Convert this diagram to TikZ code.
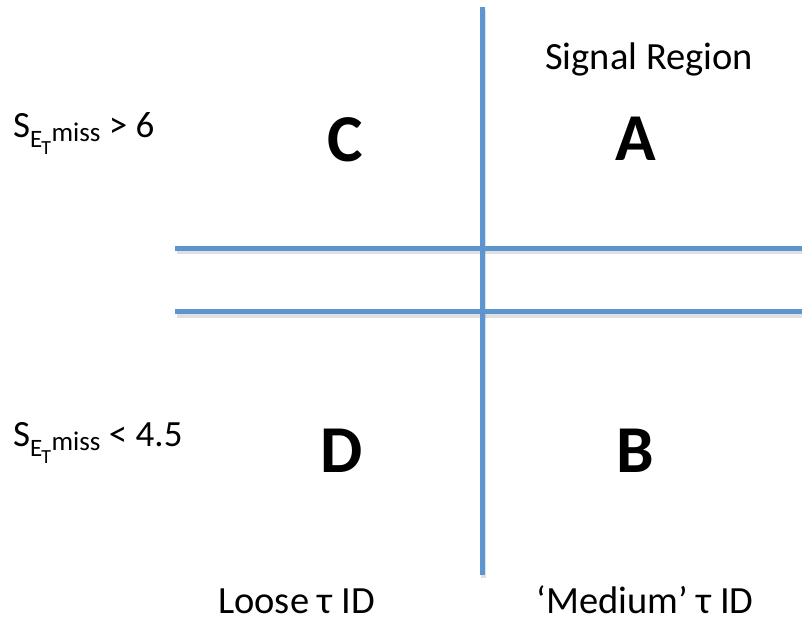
\documentclass[tikz,border=0pt]{standalone}
\usepackage{fontspec}
\setmainfont{Carlito}
\definecolor{linecol}{HTML}{5D95D0}
\tikzset{
  axisline/.style={line width=5pt, linecol},
  shadowline/.style={line width=5pt, black, opacity=0.12},
  txt/.style={inner sep=0pt, font=\fontsize{38.5}{42}\selectfont, anchor=base west},
  lbl/.style={inner sep=0pt, font=\fontsize{37}{40}\selectfont, anchor=base west},
  big/.style={inner sep=0pt, font=\fontsize{67}{70}\selectfont\bfseries, anchor=base},
}
\newcommand{\smiss}{S\raisebox{-10.5pt}{\fontsize{25}{27}\selectfont E}\kern-1pt\raisebox{-17pt}{\fontsize{20}{22}\selectfont T}\kern0.5pt\raisebox{-4pt}{\fontsize{27}{30}\selectfont miss}}
\begin{document}
\begin{tikzpicture}[x=1pt,y=-1pt]
\useasboundingbox (0,0) rectangle (802,629);
\fill[white] (0,0) rectangle (802,629);
\coordinate (vtop) at (482,7);
\coordinate (vbot) at (482,575);
\coordinate (h1l) at (175,248);
\coordinate (h1r) at (802,248);
\coordinate (h2l) at (175,311.5);
\coordinate (h2r) at (802,311.5);
% shadows
\draw[shadowline] ([shift={(1.5,3)}]vtop) -- ([shift={(1.5,3)}]vbot);
\draw[shadowline] ([shift={(1.5,3.5)}]h1l) -- ([shift={(1.5,3.5)}]h1r);
\draw[shadowline] ([shift={(1.5,3.5)}]h2l) -- ([shift={(1.5,3.5)}]h2r);
% lines
\draw[axisline] (vtop) -- (vbot);
\draw[axisline] (h1l) -- (h1r);
\draw[axisline] (h2l) -- (h2r);
% texts
\node[txt] (sig) at (545,69) {Signal Region};
\node[big] (C) at (345.5,161) {C};
\node[big] (A) at (635.5,160) {A};
\node[big] (D) at (342,472) {D};
\node[big] (B) at (635,472) {B};
\node[lbl] (up) at (13,137) {\smiss{} > 6};
\node[lbl] (lo) at (13,446) {\smiss{} < 4.5};
\node[txt] (loose) at (218,613) {Loose τ ID};
\node[txt, anchor=base] (med) at (645,613) {‘Medium’ τ ID};
\end{tikzpicture}
\end{document}
